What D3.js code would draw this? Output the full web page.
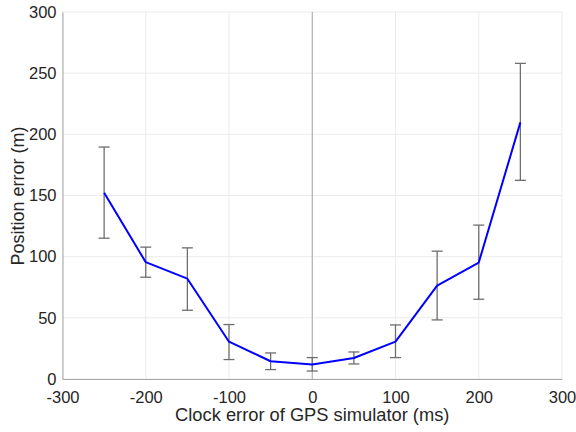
<!DOCTYPE html>
<html>
<head>
<meta charset="utf-8">
<script src="https://cdn.jsdelivr.net/npm/d3@7"></script>
<style>
  body { margin: 0; background: #fff; }
  text { font-family: "Liberation Sans", Arial, sans-serif; fill: #262626; }
</style>
</head>
<body>
<script>
// Data
var clockError = [-250, -200, -150, -100, -50, 0, 50, 100, 150, 200, 250];
var posError   = [152.2, 95.5, 82, 30.5, 14.5, 11.8, 17.2, 30.6, 76.4, 95.2, 209.8];
var errUpper   = [189.6, 107.8, 107.2, 44.5, 21.3, 17.5, 22.1, 44.2, 104.5, 125.8, 258];
var errLower   = [115.1, 83.2, 56.2, 15.9, 7.7, 6.5, 12.3, 17.5, 48.3, 65.2, 162.4];
var xTicks = [-300, -200, -100, 0, 100, 200, 300];
var yTicks = [0, 50, 100, 150, 200, 250, 300];

var margin = {top: 12, right: 14, bottom: 53, left: 62.5},
    width = 576 - margin.left - margin.right,
    height = 432 - margin.top - margin.bottom;

var x = d3.scaleLinear().domain([-300, 300]).range([0, width]);
var y = d3.scaleLinear().domain([0, 300]).range([height, 0]);

var svg = d3.select("body").append("svg")
    .attr("width", 576)
    .attr("height", 432);

var g = svg.append("g")
    .attr("transform", "translate(" + margin.left + "," + margin.top + ")");

// grid
g.selectAll(".vgrid").data(xTicks).enter().append("line")
    .attr("x1", function(d) { return x(d); })
    .attr("x2", function(d) { return x(d); })
    .attr("y1", 0).attr("y2", height)
    .attr("stroke", "#ebebeb").attr("stroke-width", 1);
g.selectAll(".hgrid").data(yTicks).enter().append("line")
    .attr("x1", 0).attr("x2", width)
    .attr("y1", function(d) { return y(d); })
    .attr("y2", function(d) { return y(d); })
    .attr("stroke", "#ebebeb").attr("stroke-width", 1);

// zero line
g.append("line")
    .attr("x1", x(0)).attr("x2", x(0))
    .attr("y1", 0).attr("y2", height)
    .attr("stroke", "#a6a6a6").attr("stroke-width", 1);

// axes
var xAxis = g.append("g")
    .attr("transform", "translate(0," + height + ")")
    .call(d3.axisBottom(x).tickValues(xTicks).tickSize(0).tickPadding(12));
var yAxis = g.append("g")
    .call(d3.axisLeft(y).tickValues(yTicks).tickSize(0).tickPadding(6));

[xAxis, yAxis].forEach(function(a) {
  a.select(".domain").attr("stroke", "#a6a6a6").attr("stroke-width", 1);
  a.selectAll("text")
    .style("font-size", "16.5px")
    .style("font-family", "'Liberation Sans', Arial, sans-serif")
    .attr("fill", "#262626");
});
xAxis.selectAll("text").text(function(d) { return d < 0 ? "-" + Math.abs(d) : d; });

// error bars
var cap = 5.5;
var eb = g.selectAll(".eb").data(clockError).enter().append("g")
    .attr("stroke", "#6e6e6e").attr("stroke-width", 1.3);
eb.append("line")
    .attr("x1", function(d) { return x(d); })
    .attr("x2", function(d) { return x(d); })
    .attr("y1", function(d, i) { return y(errLower[i]); })
    .attr("y2", function(d, i) { return y(errUpper[i]); });
eb.append("line")
    .attr("x1", function(d) { return x(d) - cap; })
    .attr("x2", function(d) { return x(d) + cap; })
    .attr("y1", function(d, i) { return y(errUpper[i]); })
    .attr("y2", function(d, i) { return y(errUpper[i]); });
eb.append("line")
    .attr("x1", function(d) { return x(d) - cap; })
    .attr("x2", function(d) { return x(d) + cap; })
    .attr("y1", function(d, i) { return y(errLower[i]); })
    .attr("y2", function(d, i) { return y(errLower[i]); });

// main line
var line = d3.line()
    .x(function(d) { return x(d); })
    .y(function(d, i) { return y(posError[i]); });
g.append("path")
    .datum(clockError)
    .attr("d", line)
    .attr("fill", "none")
    .attr("stroke", "#0000ff")
    .attr("stroke-width", 2)
    .attr("stroke-linejoin", "round");

// axis labels
svg.append("text")
    .attr("x", margin.left + width / 2)
    .attr("y", 421)
    .attr("text-anchor", "middle")
    .style("font-size", "18.3px")
    .text("Clock error of GPS simulator (ms)");

svg.append("text")
    .attr("transform", "translate(24,196) rotate(-90)")
    .attr("text-anchor", "middle")
    .style("font-size", "18px")
    .text("Position error (m)");
</script>
</body>
</html>
